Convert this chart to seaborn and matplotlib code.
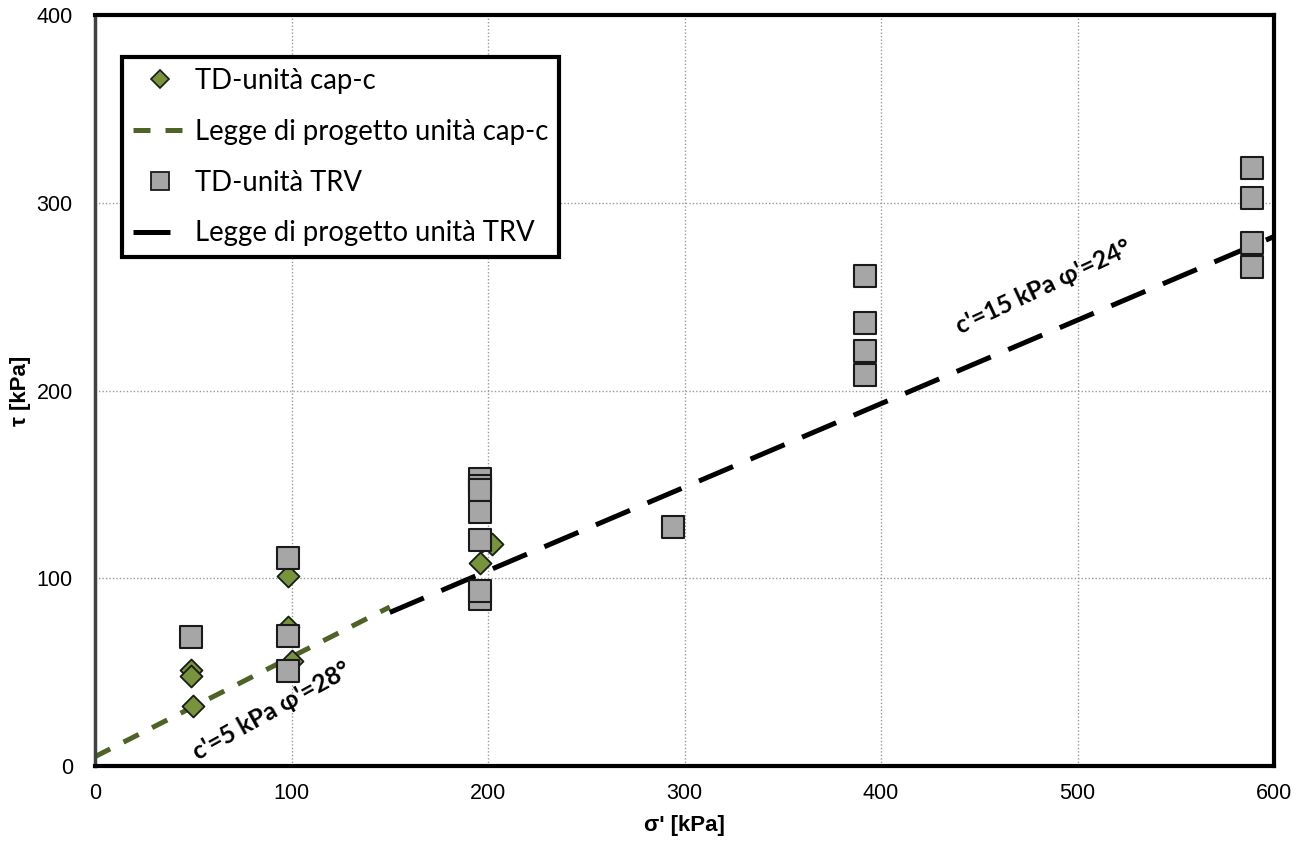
import pandas as pd
import matplotlib
matplotlib.use('Agg')
import matplotlib.pyplot as plt
from matplotlib.lines import Line2D
import seaborn as sns

# Data
capc_sigma = [49, 49, 50, 98, 98, 100, 196, 197, 202]
capc_tau = [51, 48, 32, 101, 74, 56, 108, 120, 118]

trv_sigma = [49, 98, 98, 98, 196, 196, 196, 196, 196, 196, 196, 294,
             392, 392, 392, 392, 589, 589, 589, 589]
trv_tau = [68.5, 111, 69, 50.5, 153, 149, 147, 135.5, 120.5, 89, 93, 127.5,
           261, 236, 221, 208, 318.5, 302.5, 278.5, 266]

# design laws: end points of the two dashed lines
capc_law_sigma = [0, 150]
capc_law_tau = [5, 84.7]
trv_law_sigma = [150, 600]
trv_law_tau = [81.8, 282]

labels = ['TD-unità cap-c', 'Legge di progetto unità cap-c',
          'TD-unità TRV', 'Legge di progetto unità TRV']
capc_note = "c'=5 kPa φ'=28°"
trv_note = "c'=15 kPa φ'=24°"

GREEN_LINE = '#4F6228'
GREEN_FACE = '#77933C'
GREY_FACE = '#A6A6A6'

sns.set_style('white')
plt.rcParams['font.family'] = ['Liberation Sans', 'DejaVu Sans']
plt.rcParams['text.color'] = 'black'
plt.rcParams['axes.labelcolor'] = 'black'

capc = pd.DataFrame({'sigma': capc_sigma, 'tau': capc_tau})
trv = pd.DataFrame({'sigma': trv_sigma, 'tau': trv_tau})
capc_law = pd.DataFrame({'sigma': capc_law_sigma, 'tau': capc_law_tau})
trv_law = pd.DataFrame({'sigma': trv_law_sigma, 'tau': trv_law_tau})

fig = plt.figure(figsize=(13.05, 8.43), dpi=100)
ax = fig.add_axes([0.0728, 0.0913, 0.9035, 0.8909])

# lines first, then diamonds, squares on top
sns.lineplot(data=capc_law, x='sigma', y='tau', ax=ax, color=GREEN_LINE, lw=3.6,
             linestyle=(0, (3.4, 3.0)), zorder=2)
sns.lineplot(data=trv_law, x='sigma', y='tau', ax=ax, color='black', lw=3.6,
             linestyle=(0, (7.4, 3.8)), zorder=2)
sns.scatterplot(data=capc, x='sigma', y='tau', ax=ax, marker='D', s=125,
                color=GREEN_FACE, edgecolor='#1a1a1a', linewidth=1.3, zorder=3)
sns.scatterplot(data=trv, x='sigma', y='tau', ax=ax, marker='s', s=250,
                color=GREY_FACE, edgecolor='#1a1a1a', linewidth=1.5, zorder=4)

ax.set_xlim(0, 600)
ax.set_ylim(0, 400)
ax.set_xticks(range(0, 601, 100))
ax.set_yticks(range(0, 401, 100))
ax.tick_params(axis='both', labelsize=15.5, direction='out', length=4, width=1.5,
               colors='black')
ax.tick_params(axis='x', pad=8)
ax.tick_params(axis='y', pad=12)
ax.grid(True, linestyle=(0, (1, 1.5)), color='#9a9a9a', lw=1.0)
ax.set_axisbelow(True)

for side in ['top', 'right', 'bottom']:
    ax.spines[side].set_color('black')
    ax.spines[side].set_linewidth(3)
ax.spines['left'].set_color('#404040')
ax.spines['left'].set_linewidth(2.5)

ax.set_xlabel("σ' [kPa]", fontsize=16, fontweight='bold', labelpad=8)
ax.set_ylabel('τ [kPa]', fontsize=16, fontweight='bold', labelpad=4)

note_font = ['Lato', 'DejaVu Sans']
ax.text(90, 29, capc_note, rotation=29, ha='center', va='center', color='black',
        fontsize=17.8, fontweight='bold', family=note_font, zorder=5)
ax.text(483, 255, trv_note, rotation=25, ha='center', va='center', color='black',
        fontsize=17.8, fontweight='bold', family=note_font, zorder=5)

handles = [
    Line2D([], [], marker='D', ls='none', markersize=9.5, markerfacecolor=GREEN_FACE,
           markeredgecolor='#1a1a1a', markeredgewidth=1.2),
    Line2D([], [], color=GREEN_LINE, lw=3.6, linestyle=(0, (3.4, 3.0))),
    Line2D([], [], marker='s', ls='none', markersize=13, markerfacecolor=GREY_FACE,
           markeredgecolor='#1a1a1a', markeredgewidth=1.3),
    Line2D([], [], color='black', lw=3.6, linestyle=(0, (7.4, 3.8))),
]
leg = ax.legend(handles, labels, loc='upper left', bbox_to_anchor=(0.023, 0.944),
                borderaxespad=0, frameon=True, fancybox=False, framealpha=1,
                edgecolor='black', handlelength=1.95, handletextpad=0.3,
                labelspacing=0.9, borderpad=0.4,
                prop={'family': ['Lato', 'DejaVu Sans'], 'size': 19.8})
leg.get_frame().set_linewidth(3)
leg.set_zorder(6)
for t in leg.get_texts():
    t.set_color('black')

fig.savefig('out.png', dpi=100)
